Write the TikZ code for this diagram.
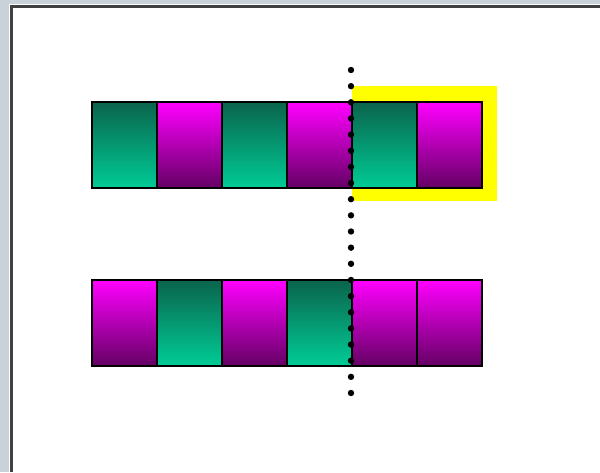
\documentclass[tikz,border=0pt]{standalone}
\usepackage{tikz}
\usetikzlibrary{positioning}
\definecolor{framegray}{RGB}{200, 210, 216}
\definecolor{framedark}{RGB}{64, 64, 64}
\definecolor{greentop}{RGB}{10, 100, 76}
\definecolor{greenbot}{RGB}{0, 204, 150}
\definecolor{pinktop}{RGB}{255, 0, 255}
\definecolor{pinkbot}{RGB}{100, 0, 100}
\definecolor{markyellow}{RGB}{255, 255, 0}

\tikzset{
  cell/.style={draw=black, line width=2.5pt, inner sep=0pt, minimum width=65pt, minimum height=86pt},
  greencell/.style={cell, top color=greentop, bottom color=greenbot},
  pinkcell/.style={cell, top color=pinktop, bottom color=pinkbot}
}

\begin{document}
\begin{tikzpicture}[x=1pt, y=-1pt]
  \useasboundingbox (0,0) rectangle (600,472);

  % ===== 窗口边框 =====
  \fill[framegray] (0,0) rectangle (600,472);
  \fill[white] (9,4) rectangle (600,472);
  \draw[framedark, line width=2.5pt] (11.5,472) -- (11.5,6.5) -- (600,6.5);

  % 标记区域
  \fill[markyellow] (352,86) rectangle (497,201);

  % ===== 上排 =====
  \foreach \c [count=\i from 0] in {greencell, pinkcell, greencell, pinkcell, greencell, pinkcell}
    \node[\c] (top\i) at (124.5+65*\i, 145) {};

  % ===== 下排 =====
  \foreach \c [count=\i from 0] in {pinkcell, greencell, pinkcell, greencell, pinkcell, pinkcell}
    \node[\c] (bot\i) at (124.5+65*\i, 323) {};

  % 分割线（点）
  \foreach \k in {0,...,20}
    \fill[black] (351, 70+16.15*\k) circle (3.2pt);
\end{tikzpicture}
\end{document}
